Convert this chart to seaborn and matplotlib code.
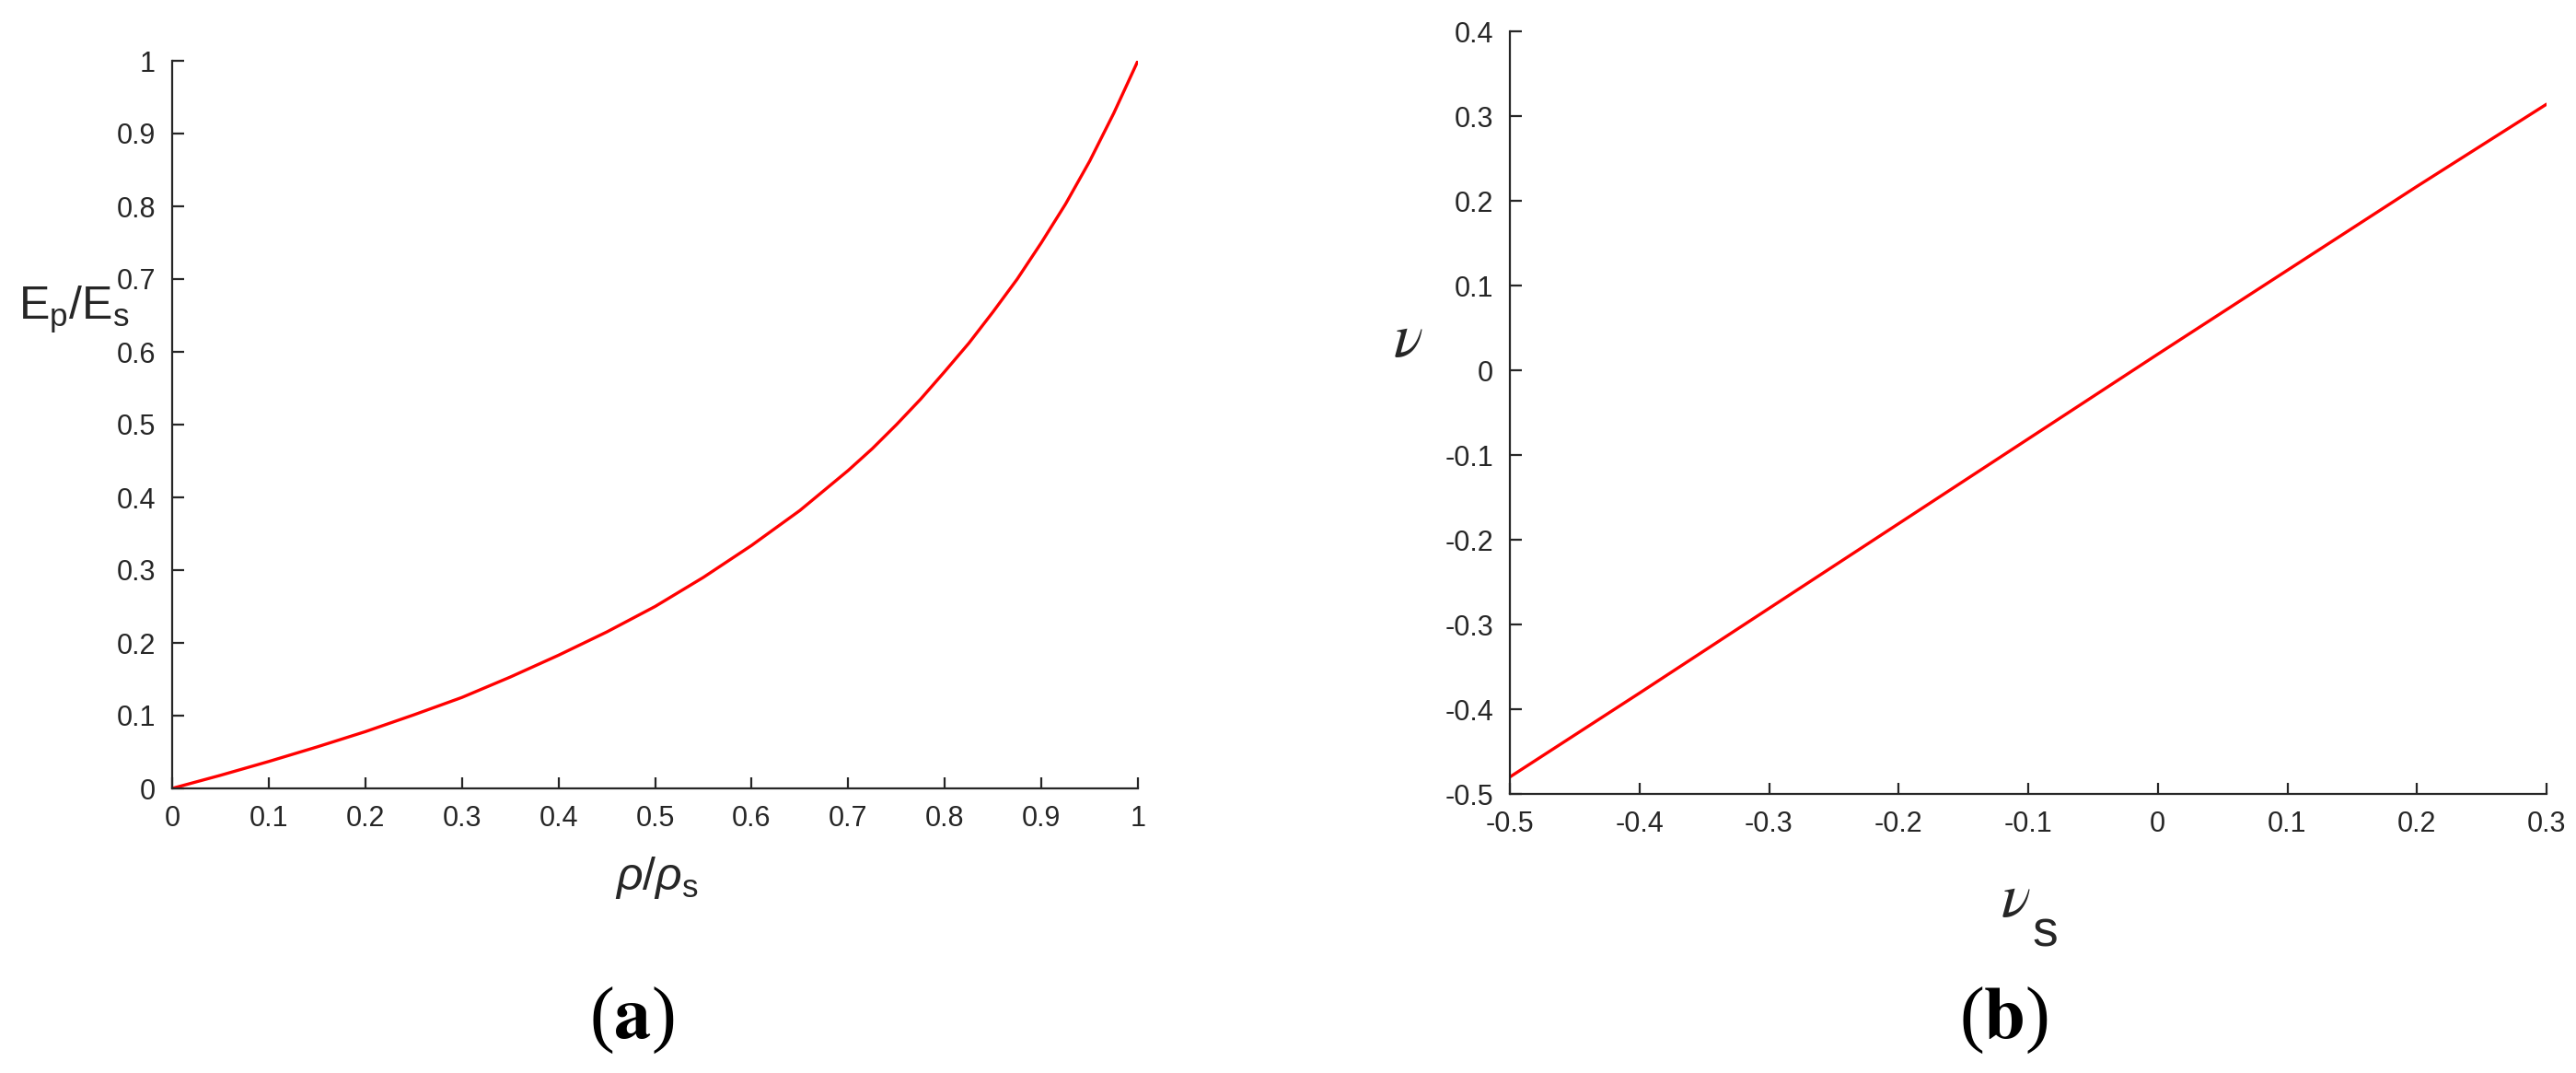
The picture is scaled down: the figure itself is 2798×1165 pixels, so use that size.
import numpy as np
import pandas as pd
import seaborn as sns
import matplotlib.pyplot as plt
from matplotlib.ticker import FuncFormatter, MultipleLocator

# (a) relative modulus vs relative density
rho_ratio = [0.0, 0.05, 0.1, 0.15, 0.2, 0.25, 0.3, 0.35, 0.4, 0.45, 0.5,
             0.55, 0.6, 0.65, 0.7, 0.725, 0.75, 0.775, 0.8, 0.825, 0.85,
             0.875, 0.9, 0.925, 0.95, 0.975, 1.0]
e_ratio = [0.0, 0.018, 0.037, 0.057, 0.078, 0.101, 0.125, 0.153, 0.183, 0.215, 0.250,
           0.290, 0.334, 0.382, 0.437, 0.467, 0.500, 0.535, 0.573, 0.612, 0.655,
           0.700, 0.750, 0.803, 0.862, 0.928, 1.0]

# (b) effective Poisson ratio vs solid Poisson ratio
nu_s = [-0.5, -0.4, -0.3, -0.2, -0.1, 0.0, 0.1, 0.2, 0.3]
nu = [-0.480, -0.381, -0.281, -0.181, -0.081, 0.019, 0.118, 0.217, 0.314]

sns.set_style("white")
plt.rcParams["font.family"] = ["Liberation Sans", "DejaVu Sans"]
plt.rcParams["mathtext.fontset"] = "custom"
plt.rcParams["mathtext.rm"] = "Liberation Sans"
plt.rcParams["mathtext.it"] = "Liberation Sans:italic"
plt.rcParams["mathtext.bf"] = "Liberation Sans:bold"

ink = "#262626"
W, H = 2798, 1165

fig = plt.figure(figsize=(W / 100, H / 100), dpi=100)


def px_axes(x0, y0, x1, y1):
    return fig.add_axes([x0 / W, 1 - y1 / H, (x1 - x0) / W, (y1 - y0) / H])


def px_text(x, y, s, **kw):
    return fig.text(x / W, 1 - y / H, s, color=ink, **kw)


def style(ax):
    sns.despine(ax=ax)
    for s in ["left", "bottom"]:
        ax.spines[s].set_linewidth(1.6)
        ax.spines[s].set_color(ink)
    ax.tick_params(direction="in", length=9, width=1.6, color=ink,
                   labelsize=22, labelcolor=ink, pad=13, left=True, bottom=True)
    fmt = FuncFormatter(lambda v, p: "%g" % round(v, 2))
    ax.xaxis.set_major_formatter(fmt)
    ax.yaxis.set_major_formatter(fmt)
    ax.set_xlabel("")
    ax.set_ylabel("")


# panel (a)
df_a = pd.DataFrame({"x": rho_ratio, "y": e_ratio})
ax1 = px_axes(187, 66, 1236, 856)
sns.lineplot(data=df_a, x="x", y="y", color="#ff0000", linewidth=2.4, ax=ax1)
ax1.set_xlim(0, 1)
ax1.set_ylim(0, 1)
ax1.xaxis.set_major_locator(MultipleLocator(0.1))
ax1.yaxis.set_major_locator(MultipleLocator(0.1))
style(ax1)
px_text(713, 928, r"$\rho/\rho_\mathrm{s}$", fontsize=36, ha="center", va="top")
px_text(20, 347, r"$\mathrm{E_p/E_s}$", fontsize=36, ha="left", va="baseline")

# panel (b)
df_b = pd.DataFrame({"x": nu_s, "y": nu})
ax2 = px_axes(1640, 34, 2766, 862)
sns.lineplot(data=df_b, x="x", y="y", color="#ff0000", linewidth=2.4, ax=ax2)
ax2.set_xlim(-0.5, 0.3)
ax2.set_ylim(-0.5, 0.4)
ax2.xaxis.set_major_locator(MultipleLocator(0.1))
ax2.yaxis.set_major_locator(MultipleLocator(0.1))
style(ax2)
px_text(2173, 995, r"$\nu$", fontsize=48, ha="left", va="baseline",
        math_fontfamily="stix")
px_text(2207, 1028, "s", fontsize=40, ha="left", va="baseline")
px_text(1513, 387, r"$\nu$", fontsize=48, ha="left", va="baseline",
        math_fontfamily="stix")

for cx, tag in [(686, "a"), (2176, "b")]:
    fig.text(cx / W, 1 - 1108 / H, "($\\mathbf{%s}$)" % tag, ha="center", va="center",
             fontsize=58, family="Liberation Serif", math_fontfamily="stix", color="black")

fig.savefig("out.png", dpi=100)
